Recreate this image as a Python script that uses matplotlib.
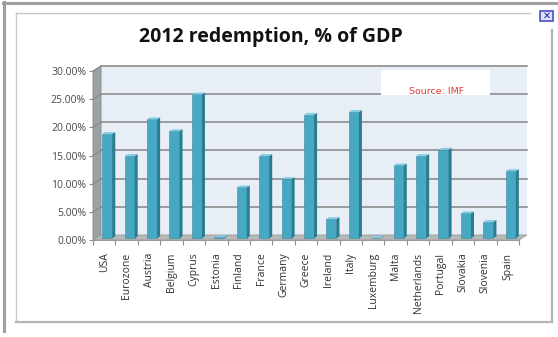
import matplotlib
matplotlib.use("Agg")
import matplotlib.pyplot as plt
from matplotlib.patches import Polygon, Rectangle
from matplotlib.lines import Line2D

countries = ["USA", "Eurozone", "Austria", "Belgium", "Cyprus", "Estonia",
             "Finland", "France", "Germany", "Greece", "Ireland", "Italy",
             "Luxemburg", "Malta", "Netherlands", "Portugal", "Slovakia",
             "Slovenia", "Spain"]
redemption = [18.5, 14.6, 21.1, 19.0, 25.5, 0.15, 9.0, 14.6, 10.5, 21.9,
              3.4, 22.4, 0.1, 12.9, 14.6, 15.7, 4.4, 2.9, 11.9]
y_ticks = [0, 5, 10, 15, 20, 25, 30]

# depth of the fake 3-D box (data units) and of each column
DX, DY = 0.357, 0.888
OX, OY = 0.134, 0.33
SX, SY = 0.134, 0.33
BAR_W = 0.45

FRONT = "#47a8c4"
SIDE = "#2a7c90"
TOP = "#7fcde2"
WALL = "#e8eef6"
GRID = "#8c8c8c"

fig = plt.figure(figsize=(5.58, 3.37), dpi=100)
W, H = 558, 337


def px(x, y):
    return x / W, 1 - y / H


# window frame
fig.add_artist(Line2D([px(3, 0)[0], 1], [px(0, 3)[1]] * 2, color="#a0a0a0", lw=2.2))
fig.add_artist(Line2D([px(4, 0)[0]] * 2, [px(0, 2)[1], px(0, 331)[1]], color="#a0a0a0", lw=2.2))
fig.add_artist(Line2D([px(16, 0)[0], px(530, 0)[0]], [px(0, 13)[1]] * 2, color="#c8c8c8", lw=1.0))
fig.add_artist(Line2D([px(16, 0)[0]] * 2, [px(0, 13)[1], px(0, 322)[1]], color="#c8c8c8", lw=1.0))
fig.add_artist(Line2D([px(16, 0)[0], px(552, 0)[0]], [px(0, 322)[1]] * 2, color="#b4b4b4", lw=1.6))
fig.add_artist(Line2D([px(552, 0)[0]] * 2, [px(0, 30)[1], px(0, 322)[1]], color="#b4b4b4", lw=1.6))

# close button
bx, by = px(540, 21)
fig.add_artist(Rectangle((bx, by), 13 / W, 10 / H, transform=fig.transFigure,
                         facecolor="#dde4ff", edgecolor="#4a4ad0", lw=1.2))
fig.text(546.5 / W, px(0, 16)[1], "✕", color="#1a1a9a", fontsize=7,
         fontweight="bold", ha="center", va="center")

ax = fig.add_axes([93 / W, 1 - 240 / H, 426 / W, 169 / H])
ax.set_xlim(-0.5, 18.5)
ax.set_ylim(0, 30)
ax.patch.set_alpha(0)

n = len(countries)
x0, x1 = -0.5, n - 0.5

# back wall, left wall and floor
ax.add_patch(Rectangle((x0 + DX, DY), n, 30, facecolor=WALL, edgecolor="none",
                       clip_on=False, zorder=0))
ax.add_patch(Polygon([(x0, 0), (x0, 30), (x0 + DX, 30 + DY), (x0 + DX, DY)],
                     closed=True, facecolor="#9ca1a4", edgecolor="#85898c",
                     lw=0.6, clip_on=False, zorder=1))
ax.add_patch(Polygon([(x0, 0), (x1, 0), (x1 + DX, DY), (x0 + DX, DY)],
                     closed=True, facecolor="#b8b8b8", edgecolor="#9a9a9a",
                     lw=0.6, clip_on=False, zorder=1))
for t in y_ticks[1:]:
    ax.plot([x0 + DX, x1 + DX], [t + DY, t + DY], color=GRID, lw=1.2,
            clip_on=False, zorder=1)
    ax.plot([x0, x0 + DX], [t, t + DY], color="#7e8285", lw=0.6,
            clip_on=False, zorder=2)

# columns
for i, v in enumerate(redemption):
    xl = i + OX - BAR_W / 2
    xr = i + OX + BAR_W / 2
    ax.add_patch(Rectangle((xl, OY), BAR_W, v, facecolor=FRONT,
                           edgecolor="#3a8aa0", lw=0.4, zorder=3, clip_on=False))
    ax.add_patch(Polygon([(xr, OY), (xr, OY + v), (xr + SX, OY + v + SY),
                          (xr + SX, OY + SY)], closed=True, facecolor=SIDE,
                         edgecolor="none", zorder=3, clip_on=False))
    ax.add_patch(Polygon([(xl, OY + v), (xr, OY + v), (xr + SX, OY + v + SY),
                          (xl + SX, OY + v + SY)], closed=True, facecolor=TOP,
                         edgecolor="none", zorder=3, clip_on=False))

for side in ["top", "right", "left"]:
    ax.spines[side].set_visible(False)
ax.spines["bottom"].set_color("#9a9a9a")
ax.spines["bottom"].set_linewidth(0.8)

ax.set_yticks(y_ticks)
ax.set_yticklabels([f"{t:.2f}%" for t in y_ticks])
ax.tick_params(axis="y", length=3, width=0.8, color="#8c8c8c", pad=2,
               labelsize=7.5, labelcolor="#4a4a4a")

ax.set_xticks(range(n))
ax.set_xticklabels(countries, rotation=90, fontsize=7.5, color="#303030")
ax.set_xticks([k - 0.5 for k in range(n + 1)], minor=True)
ax.tick_params(axis="x", which="major", length=0, pad=9)
ax.tick_params(axis="x", which="minor", length=3.5, width=0.8, color="#8c8c8c")

for lab in ax.get_xticklabels() + ax.get_yticklabels():
    lab.set_family(["Open Sans", "DejaVu Sans"])

fig.text(271 / W, px(0, 37)[1], "2012 redemption, % of GDP",
         fontsize=14, fontweight="bold", ha="center", va="center",
         color="#111111", family=["Open Sans", "DejaVu Sans"])

# source note
sx, sy = px(381, 95)
fig.add_artist(Rectangle((sx, sy), 109 / W, 25 / H, transform=fig.transFigure,
                         facecolor="white", edgecolor="none", zorder=5))
fig.text(437 / W, px(0, 92)[1], "Source: IMF", color="#e03a3a",
         fontsize=6.8, ha="center", va="center", zorder=6)

fig.savefig("out.png", dpi=100)
